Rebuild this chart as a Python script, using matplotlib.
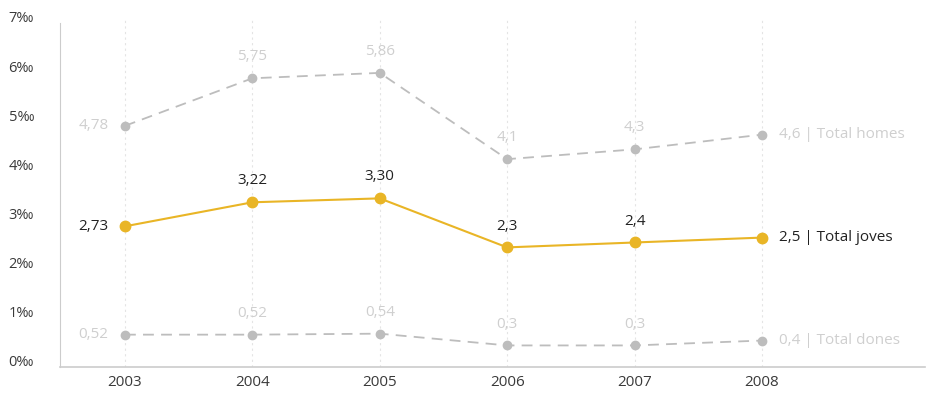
import matplotlib.pyplot as plt

plt.rcParams['font.family'] = ['Open Sans', 'DejaVu Sans']

years = [2003, 2004, 2005, 2006, 2007, 2008]
homes = [4.78, 5.75, 5.86, 4.1, 4.3, 4.6]
joves = [2.73, 3.22, 3.30, 2.3, 2.4, 2.5]
dones = [0.52, 0.52, 0.54, 0.3, 0.3, 0.4]
homes_lbl = ["4,78", "5,75", "5,86", "4,1", "4,3", "4,6 | Total homes"]
joves_lbl = ["2,73", "3,22", "3,30", "2,3", "2,4", "2,5 | Total joves"]
dones_lbl = ["0,52", "0,52", "0,54", "0,3", "0,3", "0,4 | Total dones"]
yticks = [0, 1, 2, 3, 4, 5, 6, 7]

yellow = "#E9B526"
gray_line = "#BDBDBD"
gray_text = "#CFCFCF"
dark = "#3A3A3A"

fig = plt.figure(figsize=(9.27, 3.93), dpi=100)
ax = fig.add_axes([60 / 927, 26 / 393, 865 / 927, 350 / 393])

for y in years:
    ax.axvline(y, color="#E4E4E4", lw=0.8, ls=(0, (2, 3)), zorder=0)

ax.plot(years, homes, color=gray_line, lw=1.3, ls=(0, (6, 4)), marker="o", ms=6, zorder=2)
ax.plot(years, dones, color=gray_line, lw=1.3, ls=(0, (6, 4)), marker="o", ms=6, zorder=2)
ax.plot(years, joves, color=yellow, lw=1.5, marker="o", ms=7.5, zorder=3)


def label(vals, texts, color, weight="normal"):
    for i, (x, v, t) in enumerate(zip(years, vals, texts)):
        if i == 0:
            ax.annotate(t, (x, v), xytext=(-12, 0), textcoords="offset points",
                        ha="right", va="center", color=color, fontsize=11, fontweight=weight)
        elif i == len(years) - 1:
            ax.annotate(t, (x, v), xytext=(12, 0), textcoords="offset points",
                        ha="left", va="center", color=color, fontsize=11, fontweight=weight)
        else:
            ax.annotate(t, (x, v), xytext=(0, 10), textcoords="offset points",
                        ha="center", va="bottom", color=color, fontsize=11, fontweight=weight)


label(homes, homes_lbl, gray_text)
label(dones, dones_lbl, gray_text)
label(joves, joves_lbl, "#222222")

ax.set_xlim(2002.49, 2009.28)
ax.set_ylim(-0.14, 7.0)
ax.set_xticks(years)
ax.set_xticklabels([str(y) for y in years], fontsize=11, color=dark)
ax.set_yticks(yticks)
ax.set_yticklabels([f"{t}‰" for t in yticks], fontsize=10.5, color=dark)
ax.tick_params(length=0, pad=6)
ax.tick_params(axis="y", pad=37)
for lbl in ax.get_yticklabels():
    lbl.set_horizontalalignment("left")

ax.spines["top"].set_visible(False)
ax.spines["right"].set_visible(False)
ax.spines["left"].set_color("#CCCCCC")
ax.spines["bottom"].set_color("#CCCCCC")
ax.spines["left"].set_bounds(-0.14, 6.88)
ax.spines["bottom"].set_linewidth(1.2)

fig.savefig("out.png", dpi=100)
